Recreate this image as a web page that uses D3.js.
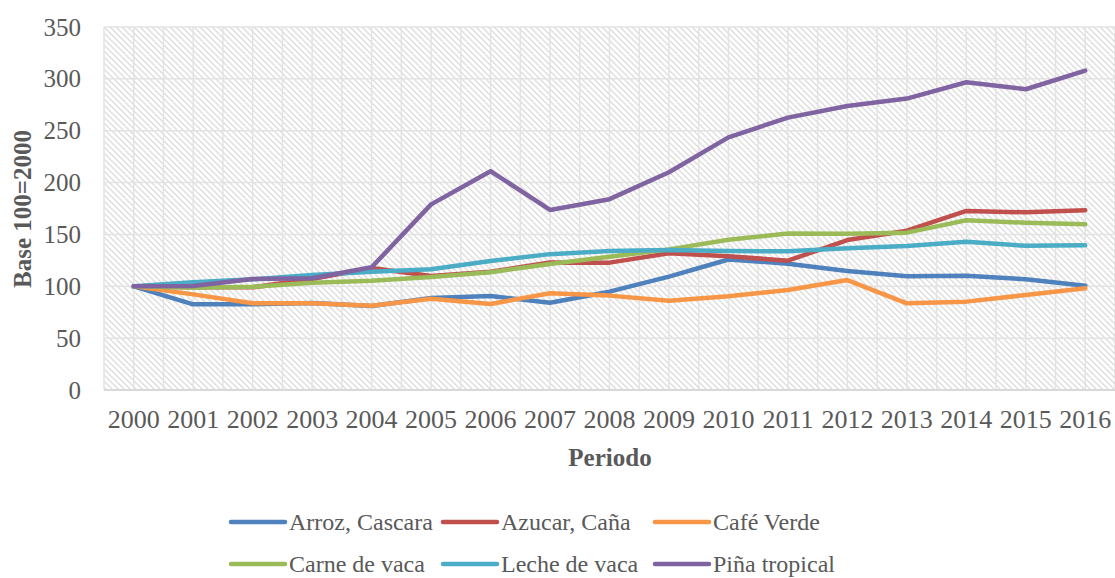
<!DOCTYPE html>
<html>
<head>
<meta charset="utf-8">
<script src="https://cdn.jsdelivr.net/npm/d3@7"></script>
<style>
  body { margin: 0; background: #fff; }
  text { font-family: "Liberation Serif", "DejaVu Serif", serif; fill: #595959; }
</style>
</head>
<body>
<svg id="chart" width="1115" height="578"></svg>
<script>
var years = ["2000","2001","2002","2003","2004","2005","2006","2007","2008","2009","2010","2011","2012","2013","2014","2015","2016"];
var yTicks = [0, 50, 100, 150, 200, 250, 300, 350];

var arroz  = [100, 82.6, 82.6, 84, 81, 88.7, 90.6, 84.2, 94.8, 109.3, 125.8, 121.8, 114.7, 109.6, 110.2, 106.7, 100.6];
var azucar = [100, 99, 99, 107, 117.6, 110, 114, 123, 122.8, 131.8, 129, 124.7, 144.6, 153.6, 172.6, 171.3, 173.3];
var cafe   = [100, 92.2, 83.6, 83.6, 81.3, 88, 83, 93.2, 91, 86.1, 90.4, 96.4, 106, 83.6, 85.2, 91.6, 98];
var carne  = [100, 98.7, 99.5, 103.5, 105.4, 109, 113.5, 121.5, 128.5, 135.6, 144.8, 151, 150.7, 151.7, 163.6, 161.3, 159.7];
var leche  = [100, 103.8, 106.7, 110.9, 114, 116.4, 124.4, 131, 134, 135, 134, 133.7, 136.6, 138.8, 143, 139, 139.5];
var pina   = [100, 100.3, 107, 107.7, 118.3, 179, 211, 173.6, 184, 210, 243.6, 262.6, 273.8, 281, 296.7, 290, 308];

var seriesNames = ["Arroz, Cascara", "Azucar, Caña", "Café Verde", "Carne de vaca", "Leche de vaca", "Piña tropical"];
var seriesValues = [arroz, azucar, cafe, carne, leche, pina];
var seriesColors = ["#4F81BD", "#C0504D", "#F79646", "#9BBB59", "#4BACC6", "#8064A2"];

var margin = {top: 27, right: 0, bottom: 188, left: 104},
    width = 1115 - margin.left - margin.right,
    height = 578 - margin.top - margin.bottom;

var svg = d3.select("#chart");

// hatch pattern for the plot area
var defs = svg.append("defs");
var pat = defs.append("pattern")
  .attr("id", "hatch")
  .attr("patternUnits", "userSpaceOnUse")
  .attr("width", 6)
  .attr("height", 6);
pat.append("path")
  .attr("d", "M0,0L6,6M-1,5L1,7M5,-1L7,1")
  .attr("stroke", "#dcdcdc")
  .attr("stroke-width", 1.3);

var g = svg.append("g")
  .attr("transform", "translate(" + margin.left + "," + margin.top + ")");

var x = d3.scaleBand().domain(years).range([0, width]);
var y = d3.scaleLinear().domain([0, 350]).range([height, 0]);
var half = x.bandwidth() / 2;

g.append("rect")
  .attr("width", width)
  .attr("height", height)
  .attr("fill", "url(#hatch)");

// vertical gridlines at band edges and band centres
var vLines = [];
years.forEach(function(d) { vLines.push(x(d)); vLines.push(x(d) + half); });
vLines.push(width);

g.selectAll(".vgrid")
  .data(vLines)
.enter().append("line")
  .attr("class", "vgrid")
  .attr("x1", function(d) { return d; })
  .attr("x2", function(d) { return d; })
  .attr("y1", 0)
  .attr("y2", height)
  .attr("stroke", "#e3e3e3")
  .attr("stroke-width", 1.5);

g.selectAll(".hgrid")
  .data(yTicks.slice(1))
.enter().append("line")
  .attr("class", "hgrid")
  .attr("x1", 0)
  .attr("x2", width)
  .attr("y1", function(d) { return y(d); })
  .attr("y2", function(d) { return y(d); })
  .attr("stroke", "#e3e3e3")
  .attr("stroke-width", 1.5);

// axis base line
g.append("line")
  .attr("x1", 0).attr("x2", width)
  .attr("y1", height).attr("y2", height)
  .attr("stroke", "#d9d9d9")
  .attr("stroke-width", 2);

// y axis labels
var yAxis = g.append("g")
  .call(d3.axisLeft(y).tickValues(yTicks).tickSize(0).tickPadding(23));
yAxis.select(".domain").remove();
yAxis.selectAll("text")
  .attr("font-size", "25px")
  .attr("font-family", "Liberation Serif")
  .attr("fill", "#595959");

// x axis labels
var xAxis = g.append("g")
  .attr("transform", "translate(0," + height + ")")
  .call(d3.axisBottom(x).tickSize(0).tickPadding(20));
xAxis.select(".domain").remove();
xAxis.selectAll("text")
  .attr("font-size", "26px")
  .attr("font-family", "Liberation Serif")
  .attr("fill", "#595959");

// axis titles
svg.append("text")
  .attr("x", 610)
  .attr("y", 466)
  .attr("text-anchor", "middle")
  .attr("font-weight", "bold")
  .attr("font-size", "25px")
  .text("Periodo");

svg.append("text")
  .attr("transform", "translate(31,209) rotate(-90)")
  .attr("text-anchor", "middle")
  .attr("font-weight", "bold")
  .attr("font-size", "25px")
  .text("Base 100=2000");

// series lines
var line = d3.line()
  .x(function(d, i) { return x(years[i]) + half; })
  .y(function(d) { return y(d); });

g.selectAll(".serie")
  .data(seriesValues)
.enter().append("path")
  .attr("class", "serie")
  .attr("d", line)
  .attr("fill", "none")
  .attr("stroke", function(d, i) { return seriesColors[i]; })
  .attr("stroke-width", 4.5)
  .attr("stroke-linejoin", "round")
  .attr("stroke-linecap", "round");

// legend
var legendCol = [231, 443, 655];
var legendRow = [522, 564];

var item = svg.selectAll(".legendItem")
  .data(seriesNames)
.enter().append("g")
  .attr("class", "legendItem")
  .attr("transform", function(d, i) {
    return "translate(" + legendCol[i % 3] + "," + legendRow[Math.floor(i / 3)] + ")";
  });

item.append("line")
  .attr("x1", 0).attr("x2", 54)
  .attr("y1", 0).attr("y2", 0)
  .attr("stroke", function(d, i) { return seriesColors[i]; })
  .attr("stroke-width", 4.5)
  .attr("stroke-linecap", "round");

item.append("text")
  .attr("x", 58)
  .attr("y", 8)
  .attr("font-size", "24px")
  .text(function(d) { return d; });
</script>
</body>
</html>
